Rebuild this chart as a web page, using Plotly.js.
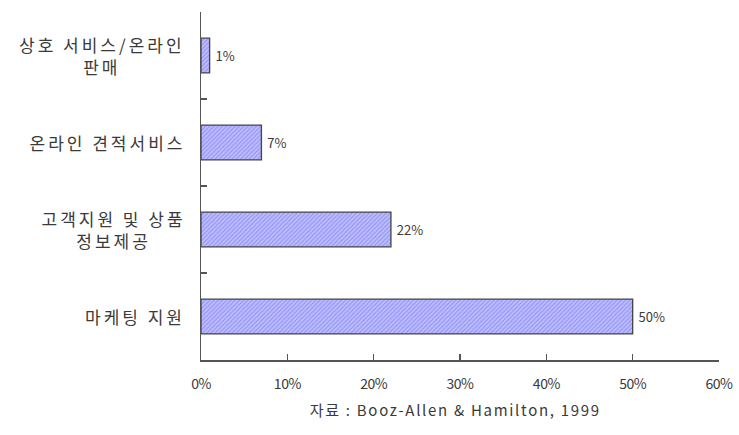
<!DOCTYPE html>
<html>
<head>
<meta charset="utf-8">
<script src="https://cdn.plot.ly/plotly-3.0.1.min.js"></script>
<style>
  html, body { margin: 0; padding: 0; background: #fff; }
  #chart { width: 739px; height: 435px; }
  /* 범주 이름은 자간을 넓게, 출처 문구는 약간 넓게 */
  #chart g.annotation text { letter-spacing: 3px; }
  #chart g.annotation[data-index="4"] text { letter-spacing: 1.7px; }
  #chart .xtick text { letter-spacing: -0.5px; }
</style>
</head>
<body>
<div id="chart"></div>
<script>
// 인터넷 활용 분야별 비중 (%)
const categories = [
  '상호 서비스/온라인<br>판매',
  '온라인 견적서비스',
  '고객지원 및 상품<br>정보제공',
  '마케팅 지원'
];
const shares = [1, 7, 22, 50];
const shareLabels = ['1%', '7%', '22%', '50%'];
const xTickValues = [0, 10, 20, 30, 40, 50, 60];
const xTickLabels = ['0%', '10%', '20%', '30%', '40%', '50%', '60%'];
const sourceNote = '자료 : Booz-Allen & Hamilton, 1999';

const FONT = '"Noto Sans CJK KR", "Noto Sans", sans-serif';
const TEXT_COLOR = '#3a3a3a';
const LABEL_SPACING = 3; // CSS 자간과 동일하게 유지

const trace = {
  type: 'bar',
  orientation: 'h',
  x: shares,
  y: categories,
  width: 0.4,
  text: shareLabels.map(s => ' ' + s),
  textposition: 'outside',
  cliponaxis: false,
  textfont: { family: FONT, size: 13, color: TEXT_COLOR },
  marker: {
    color: '#bcbcff',
    line: { color: '#444', width: 1.3 },
    pattern: { shape: '/', bgcolor: '#bcbcff', fgcolor: '#8c8cf2', size: 3, solidity: 0.3 }
  },
  hoverinfo: 'skip'
};

// 범주 이름은 가운데 정렬로 축 왼쪽에 배치.
// 자간이 가운데 기준으로 늘어나므로 가장 긴 줄 길이만큼 왼쪽으로 보정한다.
const labelAnnotations = categories.map(c => {
  const longest = Math.max(...c.split('<br>').map(s => s.length));
  return {
    xref: 'paper', yref: 'y',
    x: -0.032, y: c,
    xshift: -(longest * LABEL_SPACING) / 2 + LABEL_SPACING,
    text: c,
    xanchor: 'right', yanchor: 'middle',
    align: 'center',
    showarrow: false,
    font: { family: FONT, size: 17, color: TEXT_COLOR }
  };
});

const layout = {
  width: 739,
  height: 435,
  margin: { l: 201, r: 20, t: 12, b: 75 },
  paper_bgcolor: '#fff',
  plot_bgcolor: '#fff',
  showlegend: false,
  bargap: 0.6,
  xaxis: {
    range: [0, 60],
    tickvals: xTickValues,
    ticktext: xTickLabels,
    ticks: 'inside',
    ticklen: 6,
    tickcolor: '#555',
    tickwidth: 1.2,
    showline: true,
    linecolor: '#555',
    linewidth: 1.5,
    showgrid: false,
    zeroline: false,
    ticklabelstandoff: 11,
    tickfont: { family: FONT, size: 14, color: TEXT_COLOR },
    fixedrange: true
  },
  yaxis: {
    type: 'category',
    autorange: 'reversed',
    showticklabels: false,
    ticks: 'inside',
    tickson: 'boundaries',
    ticklen: 6,
    tickcolor: '#555',
    tickwidth: 1.2,
    showline: true,
    linecolor: '#555',
    linewidth: 1.5,
    showgrid: false,
    zeroline: false,
    fixedrange: true
  },
  annotations: labelAnnotations.concat([{
    xref: 'paper', yref: 'paper',
    x: 0.492, y: -0.142,
    text: sourceNote,
    xanchor: 'center', yanchor: 'middle',
    showarrow: false,
    font: { family: FONT, size: 15, color: TEXT_COLOR }
  }])
};

Plotly.newPlot('chart', [trace], layout, { displayModeBar: false, staticPlot: true });
</script>
</body>
</html>
